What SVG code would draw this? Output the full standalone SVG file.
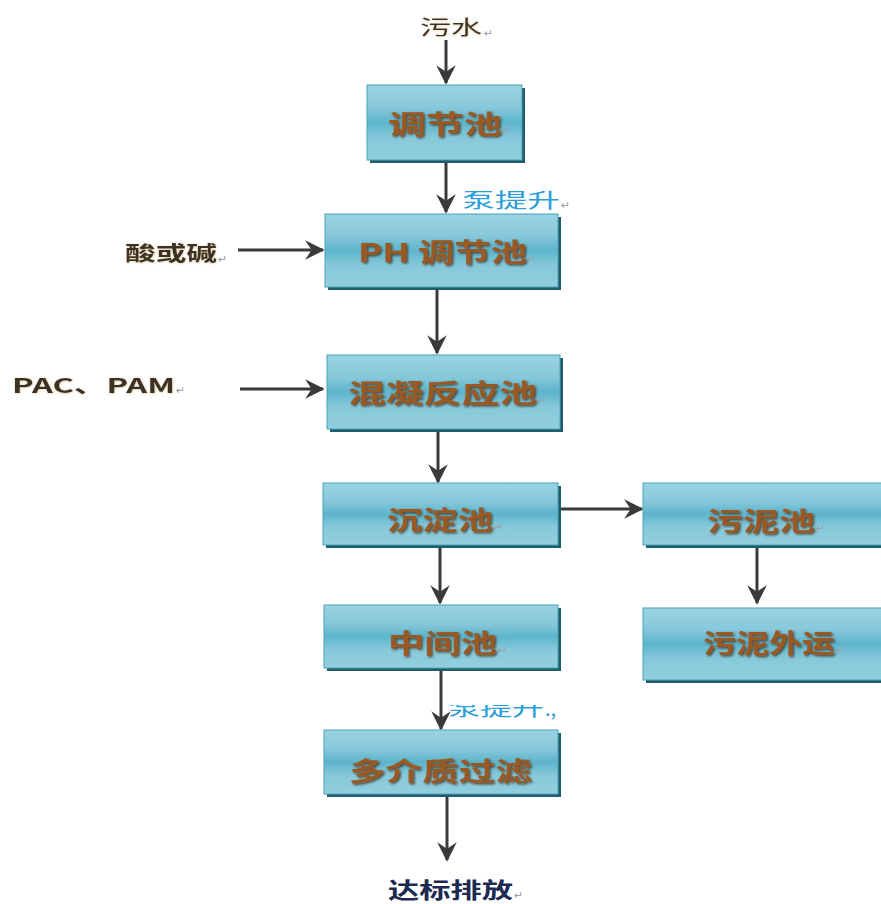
<svg xmlns="http://www.w3.org/2000/svg" width="881" height="904" viewBox="0 0 881 904">
<defs>
<linearGradient id="boxg" x1="0" y1="0" x2="0" y2="1">
<stop offset="0" stop-color="#9ad3e2"/>
<stop offset="0.3" stop-color="#86c8da"/>
<stop offset="0.5" stop-color="#5db4cc"/>
<stop offset="0.7" stop-color="#86c8da"/>
<stop offset="1" stop-color="#92cfdf"/>
</linearGradient>
<filter id="ts" x="-10%" y="-30%" width="120%" height="160%">
<feDropShadow dx="1.5" dy="1.5" stdDeviation="0.8" flood-color="#3a2a1c" flood-opacity="0.8"/>
</filter>
<filter id="glow" x="-10%" y="-30%" width="120%" height="160%">
<feDropShadow dx="0.5" dy="0.5" stdDeviation="1" flood-color="#c9a060" flood-opacity="0.6"/>
</filter>
<marker id="ah" viewBox="0 0 12 12" refX="11" refY="6" markerWidth="6.5" markerHeight="6.5" orient="auto" markerUnits="strokeWidth">
<path d="M0,0 L12,6 L0,12 L4,6 z" fill="#3a3a3a"/>
</marker>
<clipPath id="cut"><rect x="440" y="705" width="140" height="30"/></clipPath>
<style>
.shadow{fill:#1f5d6a}
.box{fill:url(#boxg);stroke:#4aa2b9;stroke-width:1}
.lbl{font-family:"Noto Sans CJK SC","Liberation Sans",sans-serif;font-weight:bold;font-size:26px;fill:#9a5824;filter:url(#ts)}
.ret{font-family:"DejaVu Sans",sans-serif;font-size:11px;fill:#9aa0a6}
.side{font-family:"Noto Sans CJK SC","Liberation Sans",sans-serif;font-weight:bold;font-size:20px;fill:#3b3328;filter:url(#glow)}
.src{font-family:"Noto Sans CJK SC","Liberation Sans",sans-serif;font-weight:normal;font-size:20px;fill:#3b3328;filter:url(#glow)}
.pump{font-family:"Noto Sans CJK SC","Liberation Sans",sans-serif;font-size:20px;fill:#2a9ed8}
.out{font-family:"Noto Sans CJK SC","Liberation Sans",sans-serif;font-weight:bold;font-size:22px;fill:#1c2a52}
.conn{stroke:#3a3a3a;stroke-width:3;fill:none;marker-end:url(#ah)}
</style>
</defs>
<rect width="881" height="904" fill="#ffffff"/>

<g id="connectors">
<line class="conn" x1="446" y1="40" x2="446" y2="83"/>
<line class="conn" x1="446" y1="160" x2="446" y2="212"/>
<line class="conn" x1="437" y1="290" x2="437" y2="353"/>
<line class="conn" x1="438" y1="432" x2="438" y2="482"/>
<line class="conn" x1="440" y1="548" x2="440" y2="603"/>
<line class="conn" x1="441" y1="671" x2="441" y2="729"/>
<line class="conn" x1="447" y1="797" x2="447" y2="860"/>
<line class="conn" x1="558" y1="509" x2="642" y2="509"/>
<line class="conn" x1="757" y1="548" x2="757" y2="603"/>
<line class="conn" x1="238" y1="250" x2="323" y2="250"/>
<line class="conn" x1="240" y1="389" x2="323" y2="389"/>
</g>

<g id="n-source">
<text class="src" x="420" y="35" textLength="62" lengthAdjust="spacingAndGlyphs">污水</text>
<text class="ret" x="484" y="37">↵</text>
</g>

<g id="n-tiaojie">
<rect class="shadow" x="370" y="88" width="155" height="75"/>
<rect class="box" x="367" y="85" width="155" height="75"/>
<text class="lbl" x="388" y="134" textLength="114" lengthAdjust="spacingAndGlyphs">调节池</text>
<text class="ret" x="502" y="134">↵</text>
</g>

<g id="l-pump1">
<text class="pump" x="462" y="208" textLength="98" lengthAdjust="spacingAndGlyphs">泵提升</text>
<text class="ret" x="561" y="209" fill="#555">↵</text>
</g>

<g id="n-ph">
<rect class="shadow" x="328" y="217" width="233" height="73"/>
<rect class="box" x="325" y="214" width="233" height="73"/>
<text class="lbl" x="358" y="262" textLength="169" lengthAdjust="spacingAndGlyphs">PH 调节池</text>
<text class="ret" x="527" y="263">↵</text>
</g>

<g id="l-acid">
<text class="side" x="125" y="261" textLength="92" lengthAdjust="spacingAndGlyphs">酸或碱</text>
<text class="ret" x="218" y="263">↵</text>
</g>

<g id="l-pac">
<text class="side" x="12" y="393" textLength="163" lengthAdjust="spacingAndGlyphs">PAC、PAM</text>
<text class="ret" x="176" y="394">↵</text>
</g>

<g id="n-hunning">
<rect class="shadow" x="330" y="358" width="233" height="74"/>
<rect class="box" x="327" y="355" width="233" height="74"/>
<text class="lbl" x="348" y="403" textLength="189" lengthAdjust="spacingAndGlyphs">混凝反应池</text>
<text class="ret" x="538" y="404">↵</text>
</g>

<g id="n-chendian">
<rect class="shadow" x="326" y="486" width="235" height="62"/>
<rect class="box" x="323" y="483" width="235" height="62"/>
<text class="lbl" x="387" y="530" textLength="106" lengthAdjust="spacingAndGlyphs">沉淀池</text>
<text class="ret" x="494" y="531">↵</text>
</g>

<g id="n-wunichi">
<rect class="shadow" x="646" y="486" width="245" height="62"/>
<rect class="box" x="643" y="483" width="245" height="62"/>
<text class="lbl" x="707" y="531" textLength="108" lengthAdjust="spacingAndGlyphs">污泥池</text>
<text class="ret" x="816" y="532">↵</text>
</g>

<g id="n-zhongjian">
<rect class="shadow" x="327" y="608" width="234" height="63"/>
<rect class="box" x="324" y="605" width="234" height="63"/>
<text class="lbl" x="388" y="653" textLength="109" lengthAdjust="spacingAndGlyphs">中间池</text>
<text class="ret" x="498" y="654">↵</text>
</g>

<g id="n-waiyun">
<rect class="shadow" x="646" y="611" width="245" height="72"/>
<rect class="box" x="643" y="608" width="245" height="72"/>
<text class="lbl" x="703" y="653" textLength="132" lengthAdjust="spacingAndGlyphs">污泥外运</text>
<text class="ret" x="836" y="654">↵</text>
</g>

<g id="l-pump2">
<g clip-path="url(#cut)">
<text class="pump" x="448" y="716" textLength="96" lengthAdjust="spacingAndGlyphs">泵提升</text>
<text class="pump" x="545" y="716" font-size="12">.,</text>
</g>
</g>

<g id="n-filter">
<rect class="shadow" x="327" y="733" width="234" height="64"/>
<rect class="box" x="324" y="730" width="234" height="64"/>
<text class="lbl" x="349" y="781" textLength="183" lengthAdjust="spacingAndGlyphs">多介质过滤</text>
</g>

<g id="n-out">
<text class="out" x="388" y="898" textLength="125" lengthAdjust="spacingAndGlyphs">达标排放</text>
<text class="ret" x="514" y="899">↵</text>
</g>
</svg>
